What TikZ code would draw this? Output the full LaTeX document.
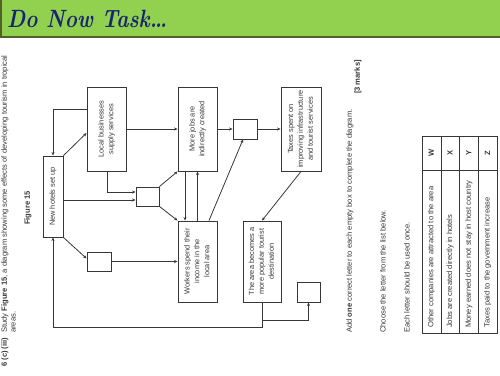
\documentclass[tikz,border=0pt]{standalone}
\usepackage{graphicx}
\usepackage{fontspec}
\setsansfont{Liberation Sans}
\usetikzlibrary{arrows.meta}

\definecolor{hdrgreen}{RGB}{146,208,80}
\definecolor{hdredge}{RGB}{79,98,40}
\definecolor{hdrtext}{RGB}{24,36,112}
\definecolor{ink}{RGB}{55,55,55}

\newcommand{\boxlines}[1]{\rotatebox{90}{\begin{tabular}{@{}c@{}}#1\end{tabular}}}

\tikzset{
  box/.style={draw=ink, line width=0.9, inner sep=0pt, text=ink,
    font=\sffamily\fontsize{7.4}{9.8}\selectfont},
  gapbox/.style={draw=ink, line width=0.9, inner sep=0pt,
    minimum width=23, minimum height=19},
  arr/.style={draw=ink, line width=0.8, -{Stealth[length=3.5pt,width=3pt]}},
  vtext/.style={rotate=90, anchor=west, inner sep=0pt, text=ink,
    font=\sffamily\fontsize{7.6}{9}\selectfont},
}

\begin{document}
\begin{tikzpicture}[x=1pt, y=1pt]
\useasboundingbox (0,0) rectangle (500,-375);

%% ---- header ----
\fill[hdrgreen] (0,0) rectangle (500,-38);
\draw[hdredge, line width=1.6] (0.8,0) -- (0.8,-37.2) -- (500,-37.2);
\node[anchor=west, inner sep=0pt, text=hdrtext, font=\bfseries\itshape\fontsize{25}{28}\selectfont]
  (title) at (7,-19) {\scalebox{0.83}[1]{Do Now Task\ldots}};

%% ---- question ----
\node[vtext] (qnum) at (5,-367) {\textbf{6 (c) (iii)}};
\node[vtext] (qline) at (5,-333) {Study \textbf{Figure 15}, a diagram showing some effects of developing tourism in tropical};
\node[vtext] (qline2) at (13.5,-333) {areas.};
\node[vtext, anchor=center] (figlabel) at (28,-208) {\textbf{Figure 15}};

%% ---- boxes ----
\node[box, minimum width=20, minimum height=81] (hotels) at (53,-196.5) {\boxlines{New hotels set up}};
\node[box, minimum width=39, minimum height=84] (local) at (106.5,-129) {\boxlines{Local businesses\\supply services}};
\node[box, minimum width=39, minimum height=84] (jobs) at (197.5,-129) {\boxlines{More jobs are\\indirectly created}};
\node[box, minimum width=40, minimum height=84] (taxes) at (301,-129) {\boxlines{Taxes spent on\\improving infrastructure\\and tourist services}};
\node[box, minimum width=39, minimum height=81] (workers) at (197.5,-261.5) {\boxlines{Workers spend their\\income in the\\local area}};
\node[box, minimum width=38, minimum height=81] (area) at (262,-261.5) {\boxlines{The area becomes a\\more popular tourist\\destination}};

%% ---- empty boxes ----
\node[gapbox] (gapmid) at (147.5,-196.5) {};
\node[gapbox, minimum width=24, minimum height=20] (gaptop) at (245,-129) {};
\node[gapbox, minimum width=24] (gaplow) at (99,-261.5) {};
\node[gapbox, minimum height=20] (gapend) at (308.5,-292) {};

%% ---- links ----
\draw[arr] ([yshift=20]local.west) -| (hotels.north);
\draw[arr] (hotels.north east) -- ([yshift=-4]local.west);
\draw[arr] ([xshift=0.5]local.south) |- ([yshift=4.5]gapmid.west);
\draw[arr] ([yshift=-3.5]hotels.east) -- ([yshift=-3.5]gapmid.west);
\draw[arr] (gapmid.north east) -- (jobs.south west);
\draw[arr] (gapmid.south east) -- (workers.north west);
\draw[arr] (local.east) -- (jobs.west);
\draw[arr] (jobs.east) -- (gaptop.west);
\draw[arr] (gaptop.east) -- (taxes.west);
\draw[arr] ([xshift=-12.5]jobs.south) -- ([xshift=-12.5]workers.north);
\draw[arr] (workers.north) -- (jobs.south);
\draw[arr] ([xshift=11.5]workers.north) -- ([xshift=-2]gaptop.south);
\draw[arr] (taxes.south) -- (area.north);
\draw[arr] (hotels.south east) -- ([yshift=3]gaplow.west);
\draw[arr] (gaplow.east) -- (workers.west);
\draw[arr] (area.south) -- ++(0,-18) -| (gapend.south);
\draw[arr] (area.south) -- ++(0,-25) -| (hotels.south);

%% ---- instructions ----
\node[vtext, anchor=east] (marks) at (358,-60) {\textbf{[3 marks]}};
\node[vtext] (addline) at (350,-333) {Add \textbf{one} correct letter to each empty box to complete the diagram.};
\node[vtext] (chooseline) at (383,-333) {Choose the letter from the list below.};
\node[vtext] (eachline) at (407,-333) {Each letter should be used once.};

%% ---- letter table ----
\draw[ink, line width=0.9] (422,-136) rectangle (497,-333);
\draw[ink, line width=0.9] (422,-170) -- (497,-170);
\foreach \c in {441,459,478} \draw[ink, line width=0.9] (\c,-136) -- (\c,-333);
\foreach \ltr/\txt [count=\i] in {W/Other companies are attracted to the area,
    X/Jobs are created directly in hotels,
    Y/Money earned does not stay in host country,
    Z/Taxes paid to the government increase} {
  \node[vtext, anchor=center] (ltr\i) at ({422+(\i-0.5)*18.75},-153) {\textbf{\ltr}};
  \node[vtext] (row\i) at ({422+(\i-0.5)*18.75},-328) {\txt};
}

\end{tikzpicture}
\end{document}
